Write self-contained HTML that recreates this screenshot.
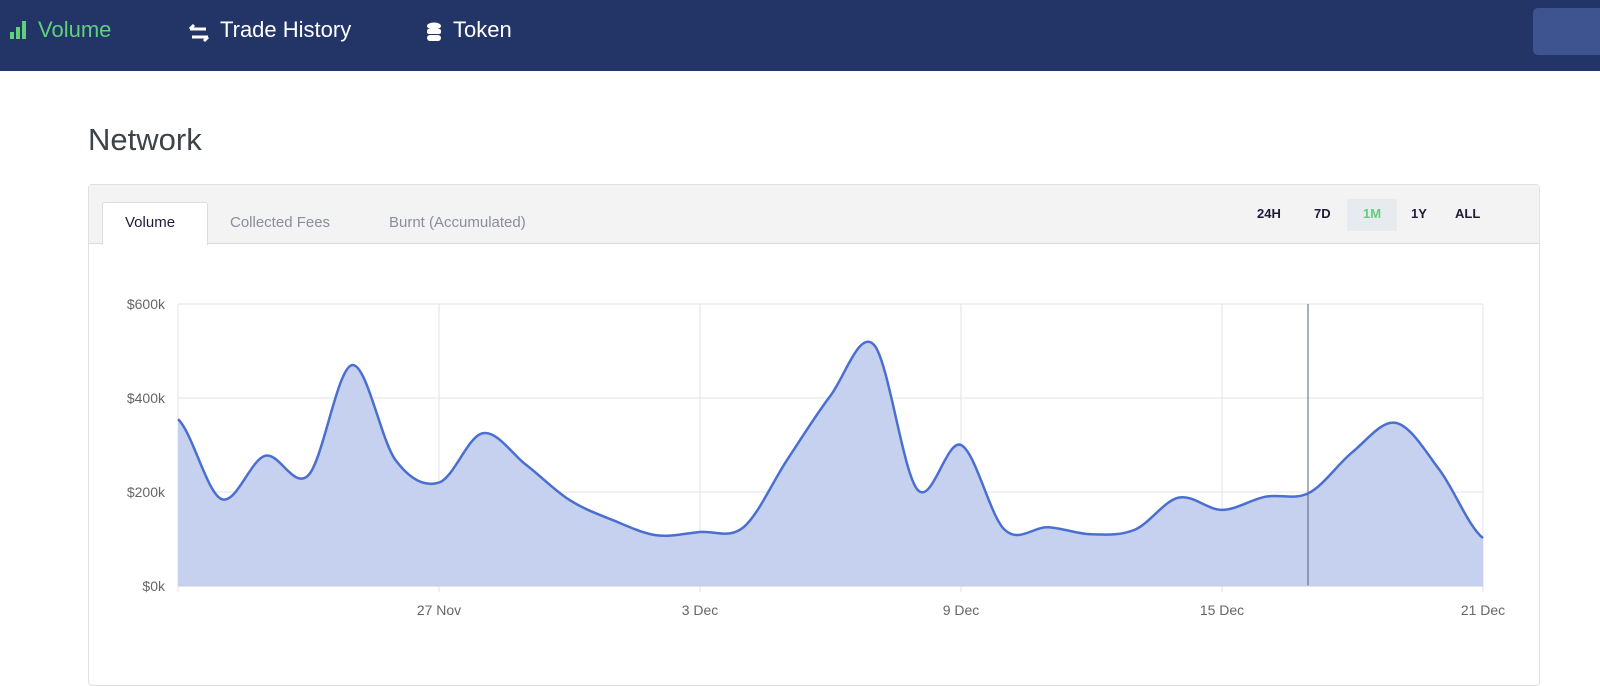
<!DOCTYPE html>
<html><head><meta charset="utf-8"><style>
body{margin:0;width:1600px;height:661px;overflow:hidden;background:#fff;font-family:"Liberation Sans",sans-serif;position:relative}
.nav{position:absolute;left:0;top:0;width:1600px;height:71px;background:#233566}
.nav span{position:absolute;top:17px;font-size:22px;color:#fff}
.btn{position:absolute;left:1533px;top:8px;width:80px;height:47px;background:#3d5490;border-radius:5px}
h1{position:absolute;left:88px;top:122px;margin:0;font-size:31px;font-weight:normal;color:#3d4349}
.card{position:absolute;left:88px;top:184px;width:1450px;height:500px;border:1px solid #e0e0e0;border-radius:4px;background:#fff}
.hdr{position:absolute;left:0;top:0;width:1450px;height:58px;background:#f3f3f3;border-bottom:1px solid #dcdcdc}
.tab{position:absolute;top:17px;height:42px;width:104px;left:13px;background:#fff;border:1px solid #dcdcdc;border-bottom:none;border-radius:3px 3px 0 0}
.t{position:absolute;top:29px;font-size:16px;color:#8a8d9a}
.r{position:absolute;top:21px;font-size:13px;font-weight:bold;color:#1d1d3a}
</style></head><body>
<div class="nav">
<svg style="position:absolute;left:10px;top:21px" width="20" height="18"><rect x="0" y="11" width="4" height="7" fill="#5fd07b"/><rect x="6" y="6" width="4" height="12" fill="#5fd07b"/><rect x="12" y="0" width="4" height="18" fill="#5fd07b"/></svg>
<span style="left:38px;color:#5fd07b">Volume</span>
<svg style="position:absolute;left:188px;top:24px" width="22" height="18"><path d="M2 5h16M2 5l4-4M20 13H4M20 13l-4 4" stroke="#fff" stroke-width="3" fill="none"/></svg>
<span style="left:220px">Trade History</span>
<svg style="position:absolute;left:427px;top:22px" width="14" height="20"><ellipse cx="7" cy="4" rx="7" ry="3.5" fill="#fff"/><rect x="0" y="7" width="14" height="5" rx="2" fill="#fff"/><rect x="0" y="13" width="14" height="6" rx="3" fill="#fff"/></svg>
<span style="left:453px">Token</span>
<div class="btn"></div>
</div>
<h1>Network</h1>
<div class="card">
<div class="hdr">
<div class="tab"></div>
<span class="t" style="left:36px;top:29px;color:#1d1d3a;font-size:15px">Volume</span>
<span class="t" style="left:141px;font-size:15px">Collected Fees</span>
<span class="t" style="left:300px;font-size:15px">Burnt (Accumulated)</span>
<div style="position:absolute;left:1258px;top:14px;width:50px;height:32px;background:#e7eaee"></div>
<span class="r" style="left:1168px">24H</span>
<span class="r" style="left:1225px">7D</span>
<span class="r" style="left:1274px;color:#5fd07b">1M</span>
<span class="r" style="left:1322px">1Y</span>
<span class="r" style="left:1366px">ALL</span>
</div>
</div>
<svg id="c" style="position:absolute;left:0;top:0" width="1600" height="661"></svg>
<script>
var v=[355,185,277,236,470,268,220,325,258,183,140,108,115,125,268,405,513,205,300,120,125,110,120,188,162,190,198,285,347,247,102];
var X=i=>178+43.5*i,Y=k=>586-k*0.47;
var s='';
[0,200,400,600].forEach(k=>{s+=`<line x1="178" x2="1483" y1="${Y(k)}" y2="${Y(k)}" stroke="#e3e3e3"/><text x="165" y="${Y(k)+5}" text-anchor="end" font-size="14" fill="#666" font-family="Liberation Sans">$${k}k</text>`});
var lb=['','27 Nov','3 Dec','9 Dec','15 Dec','21 Dec'];
for(var j=0;j<6;j++){var x=178+261*j;s+=`<line x1="${x}" x2="${x}" y1="304" y2="592" stroke="#e3e3e3"/><text x="${x}" y="615" text-anchor="middle" font-size="14" fill="#666" font-family="Liberation Sans">${lb[j]}</text>`;}
var p=`M${X(0)},${Y(v[0])}`;
for(var i=0;i<v.length-1;i++){var a=v[Math.max(i-1,0)],b=v[i],c=v[i+1],d=v[Math.min(i+2,v.length-1)];
p+=` C${X(i)+14.5},${Y(b+(c-a)/6)} ${X(i+1)-14.5},${Y(c-(d-b)/6)} ${X(i+1)},${Y(c)}`;}
s+=`<path d="${p} L1483,586 L178,586Z" fill="#c5d1ee"/>`;
s+=`<line x1="1308" x2="1308" y1="304" y2="586" stroke="#56627a" stroke-width="1"/>`;
s+=`<path d="${p}" fill="none" stroke="#4a6fd0" stroke-width="2.5"/>`;
s+=`<line x1="178" x2="1483" y1="586" y2="586" stroke="#ccd"/>`;
document.getElementById('c').innerHTML=s;
</script>
</body></html>
